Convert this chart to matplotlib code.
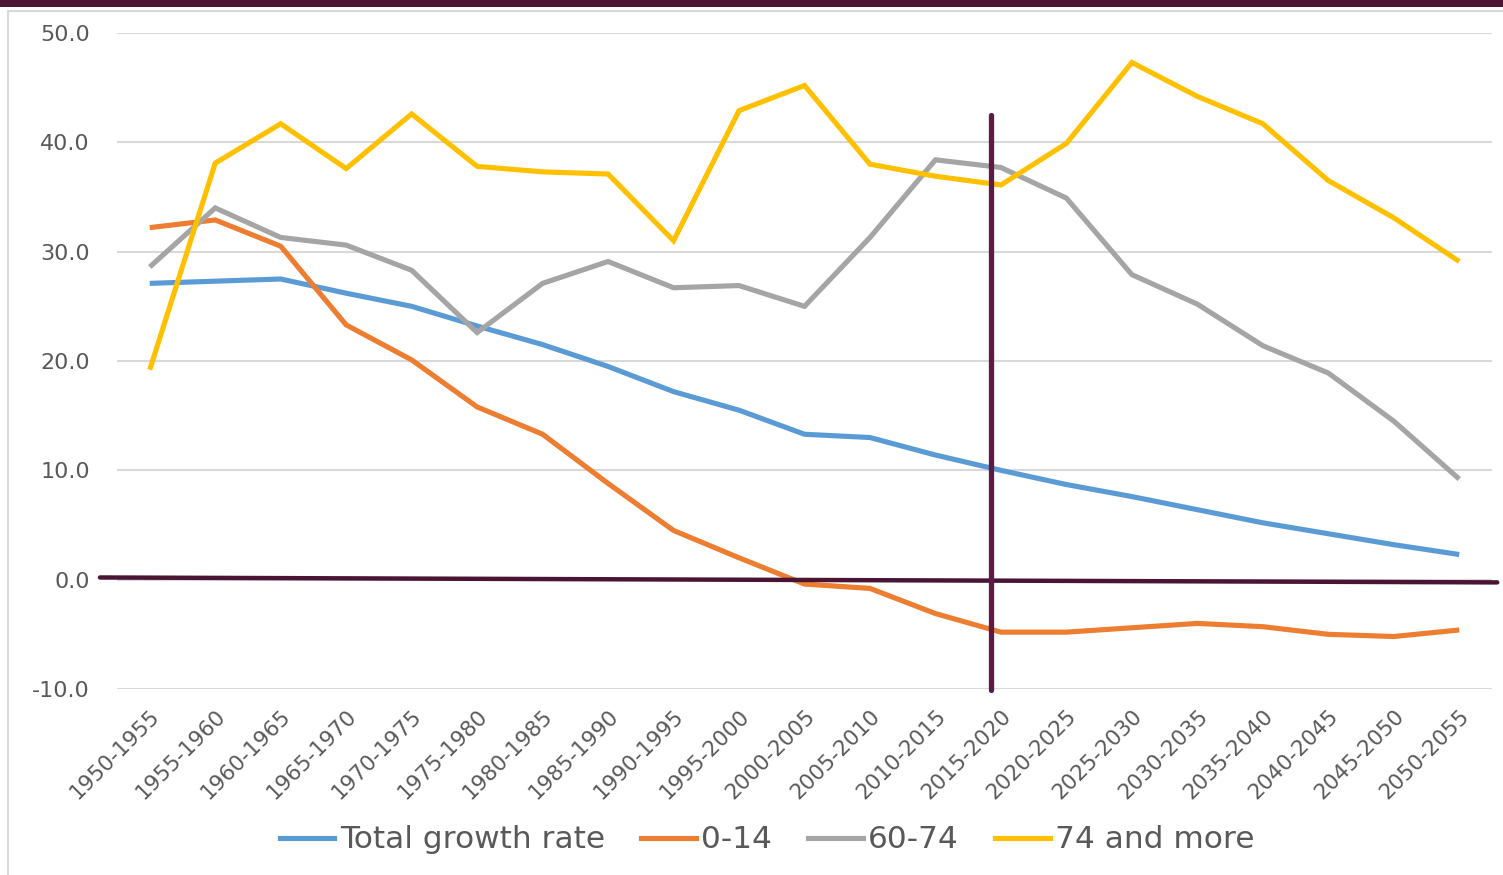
import matplotlib
matplotlib.use("Agg")
import matplotlib.pyplot as plt
from matplotlib.lines import Line2D
from matplotlib.patches import Rectangle

periods = ["1950-1955", "1955-1960", "1960-1965", "1965-1970", "1970-1975",
           "1975-1980", "1980-1985", "1985-1990", "1990-1995", "1995-2000",
           "2000-2005", "2005-2010", "2010-2015", "2015-2020", "2020-2025",
           "2025-2030", "2030-2035", "2035-2040", "2040-2045", "2045-2050",
           "2050-2055"]

total_growth = [27.1, 27.3, 27.5, 26.2, 25.0, 23.2, 21.5, 19.5, 17.2, 15.5,
                13.3, 13.0, 11.4, 10.0, 8.7, 7.6, 6.4, 5.2, 4.2, 3.2, 2.3]
age_0_14 = [32.2, 32.9, 30.5, 23.3, 20.1, 15.8, 13.3, 8.8, 4.5, 2.0,
            -0.4, -0.8, -3.1, -4.8, -4.8, -4.4, -4.0, -4.3, -5.0, -5.2, -4.6]
age_60_74 = [28.6, 34.0, 31.3, 30.6, 28.3, 22.6, 27.1, 29.1, 26.7, 26.9,
             25.0, 31.3, 38.4, 37.7, 34.9, 27.9, 25.2, 21.4, 18.9, 14.5, 9.2]
age_74_more = [19.2, 38.1, 41.7, 37.6, 42.6, 37.8, 37.3, 37.1, 31.0, 42.9,
               45.2, 38.0, 36.9, 36.1, 39.9, 47.3, 44.2, 41.7, 36.5, 33.1, 29.1]

series_labels = ["Total growth rate", "0-14", "60-74", "74 and more"]
series_colors = ["#5B9BD5", "#ED7D31", "#A5A5A5", "#FFC000"]
yticks = [-10, 0, 10, 20, 30, 40, 50]

# annotation: vertical marker near 2015-2020 and hand-drawn zero line
vline_x = 12.85
vline_y = (-10.1, 42.5)
zero_line_x = (-0.76, 20.58)
zero_line_y = (0.2, -0.25)

W, H = 1503, 875
fig = plt.figure(figsize=(W / 100, H / 100), dpi=100)
fig.patch.set_facecolor("white")

# top bar and chart border
fig.add_artist(Rectangle((0, 1 - 7 / H), 1, 7 / H, transform=fig.transFigure,
                         facecolor="#4f1535", edgecolor="none"))
fig.add_artist(Rectangle((8 / W, -0.01), 1.0, 1 - 11 / H + 0.01, transform=fig.transFigure,
                         facecolor="none", edgecolor="#d9d9d9", linewidth=1.5))

ax = fig.add_axes([117 / W, 1 - 689 / H, (1492 - 117) / W, (689 - 33) / H])
x = list(range(len(periods)))
data = [total_growth, age_0_14, age_60_74, age_74_more]
for vals, lab, col in zip(data, series_labels, series_colors):
    ax.plot(x, vals, color=col, linewidth=3.7, label=lab, solid_joinstyle="miter",
            solid_capstyle="butt", zorder=3)

ax.set_xlim(-0.5, len(periods) - 0.5)
ax.set_ylim(-10, 50)
ax.set_yticks(yticks)
ax.set_yticklabels([f"{v:.1f}" for v in yticks])
ax.set_xticks(x)
ax.set_xticklabels(periods, rotation=45, ha="right", rotation_mode="anchor")
ax.tick_params(axis="y", length=0, pad=19.5, labelsize=16, labelcolor="#595959")
ax.tick_params(axis="x", length=0, pad=12, labelsize=15.5, labelcolor="#595959")
ax.grid(axis="y", color="#d9d9d9", linewidth=1.5, zorder=0)
for s in ax.spines.values():
    s.set_visible(False)

ax.plot(zero_line_x, zero_line_y, color="#4a1535", linewidth=3.2, clip_on=False,
        solid_capstyle="round", zorder=4)
ax.plot([vline_x, vline_x], vline_y, color="#5c1a44", linewidth=3.8, clip_on=False,
        solid_capstyle="round", zorder=5)

handles = [Line2D([0], [0], color=c, linewidth=3.7) for c in series_colors]
fig.legend(handles, series_labels, loc="center", bbox_to_anchor=(0.5105, 1 - 840 / H),
           ncol=4, frameon=False, fontsize=22.5, handlelength=1.75, handletextpad=0.17,
           columnspacing=1.16, labelcolor="#595959")

fig.savefig("out.png", dpi=100)
